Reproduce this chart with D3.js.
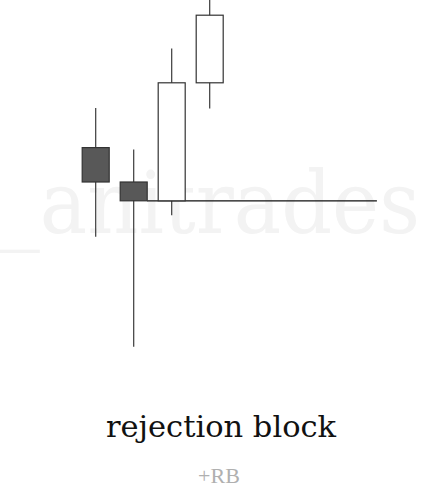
<!DOCTYPE html>
<html>
<head>
<meta charset="utf-8">
<script src="https://cdn.jsdelivr.net/npm/d3@7"></script>
<style>
  html, body { margin: 0; padding: 0; background: #fff; }
  svg { display: block; }
</style>
</head>
<body>
<div id="chart"></div>
<script>
// Candle data (index, open, high, low, close) in arbitrary price units
const candleIdx = [0, 1, 2, 3];
const opens  = [63.1, 54.5, 49.8, 79.3];
const highs  = [73.0, 62.6, 87.9, 101.5];
const lows   = [40.8, 13.3, 46.2, 72.9];
const closes = [54.5, 49.8, 79.3, 96.2];

// rejection level: from candle 1 close out to x index 7.4
const levelPrice = 49.8;
const levelFrom = 1;
const levelTo = 7.4;

const titleText = 'rejection block';
const subText = '+RB';
const watermark = '_anitrades';

const width = 426, height = 489;
const bodyW = 27;

const svg = d3.select('#chart').append('svg')
    .attr('width', width)
    .attr('height', height);

const xScale = d3.scaleLinear()
    .domain([0, 3])
    .range([95.7, 209.7]);

const yScale = d3.scaleLinear()
    .domain([0, 100])
    .range([400, 0]);

// watermark behind everything
svg.append('text')
    .attr('x', 0)
    .attr('y', 233)
    .attr('textLength', 420)
    .attr('lengthAdjust', 'spacingAndGlyphs')
    .style('font-family', '"DejaVu Serif", serif')
    .style('font-size', '86px')
    .attr('fill', '#f3f3f3')
    .text(watermark);

const candles = candleIdx.map((d, i) => ({
  i: d, open: opens[i], high: highs[i], low: lows[i], close: closes[i]
}));

const g = svg.append('g');

// wicks
g.selectAll('.wick')
  .data(candles)
  .enter().append('line')
    .attr('class', 'wick')
    .attr('x1', d => xScale(d.i))
    .attr('x2', d => xScale(d.i))
    .attr('y1', d => yScale(d.high))
    .attr('y2', d => yScale(d.low))
    .attr('stroke', '#3a3a3a')
    .attr('stroke-width', 1.2);

// level line
g.append('line')
    .attr('x1', xScale(levelFrom) + bodyW / 2)
    .attr('x2', xScale(levelTo))
    .attr('y1', yScale(levelPrice))
    .attr('y2', yScale(levelPrice))
    .attr('stroke', '#111')
    .attr('stroke-width', 1.3);

// bodies
g.selectAll('.body')
  .data(candles)
  .enter().append('rect')
    .attr('class', 'body')
    .attr('x', d => xScale(d.i) - bodyW / 2)
    .attr('width', bodyW)
    .attr('y', d => yScale(Math.max(d.open, d.close)))
    .attr('height', d => Math.abs(yScale(d.open) - yScale(d.close)))
    .attr('fill', d => d.close < d.open ? '#585858' : '#fff')
    .attr('stroke', '#333')
    .attr('stroke-width', 1.2);

// titles
svg.append('text')
    .attr('x', 221)
    .attr('y', 437)
    .attr('text-anchor', 'middle')
    .style('font-family', '"DejaVu Serif", serif')
    .style('font-size', '30.5px')
    .attr('fill', '#111')
    .text(titleText);

svg.append('text')
    .attr('x', 219)
    .attr('y', 483)
    .attr('text-anchor', 'middle')
    .style('font-family', '"Liberation Serif", serif')
    .style('font-size', '22px')
    .attr('fill', '#b0b0b0')
    .text(subText);
</script>
</body>
</html>
